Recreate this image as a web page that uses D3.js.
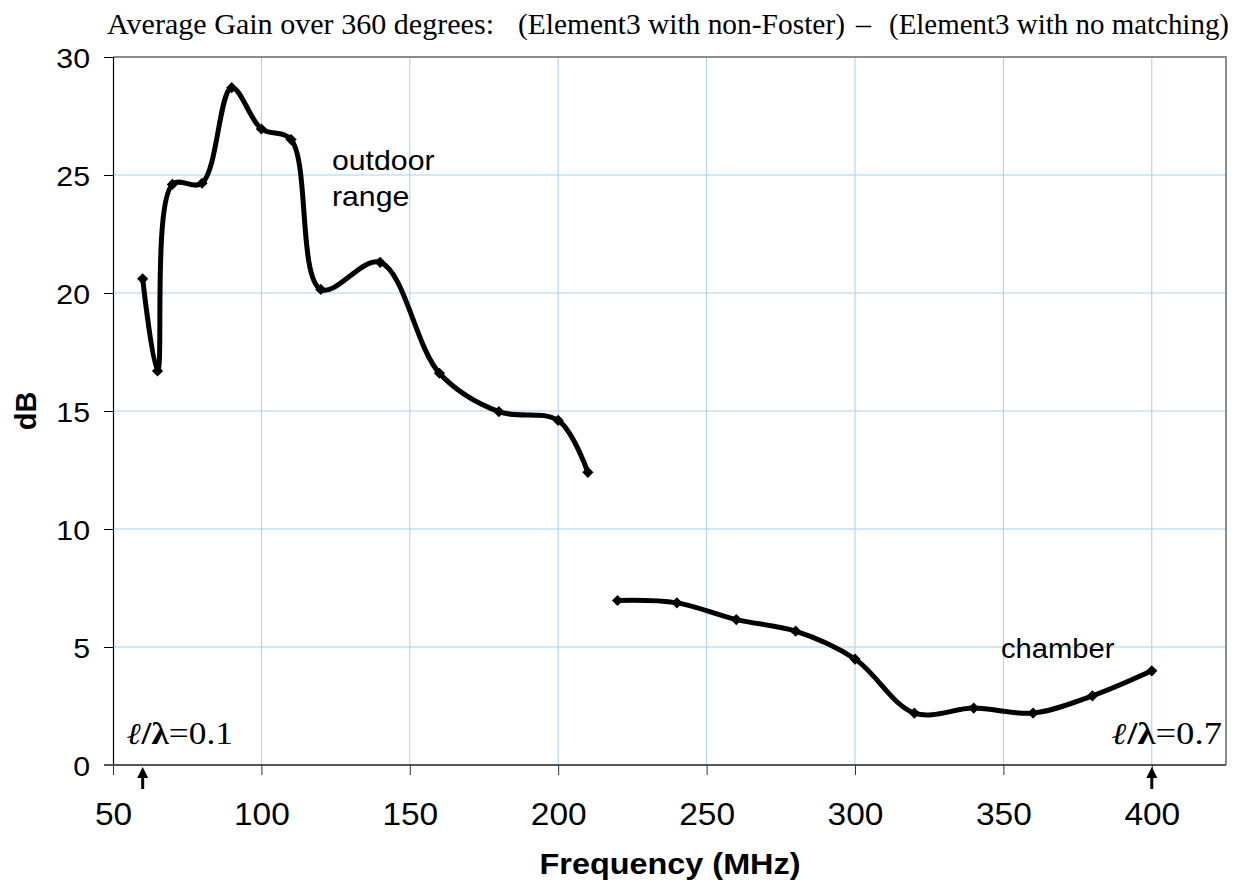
<!DOCTYPE html>
<html><head><meta charset="utf-8">
<script src="https://cdn.jsdelivr.net/npm/d3@7"></script>
<style>
html,body{margin:0;padding:0;background:#fff;}
svg{display:block;}
</style></head>
<body>
<svg id="chart" width="1233" height="882"></svg>
<script>
// ---- data ----
const freqOutdoor = [60, 65, 70, 80, 90, 100, 110, 120, 140, 160, 180, 200, 210];
const gainOutdoor = [20.6, 16.7, 24.6, 24.65, 28.7, 26.95, 26.5, 20.15, 21.3, 16.6, 14.97, 14.6, 12.4];
const freqChamber = [220, 240, 260, 280, 300, 320, 340, 360, 380, 400];
const gainChamber = [6.97, 6.87, 6.16, 5.67, 4.49, 2.2, 2.41, 2.2, 2.93, 3.99];
const xTicks = [50, 100, 150, 200, 250, 300, 350, 400];
const yTicks = [0, 5, 10, 15, 20, 25, 30];
const xDomain = [50, 425];
const yDomain = [0, 30];
const arrowFreqs = [60, 400];
const titleParts = ["Average Gain over 360 degrees:", "(Element3 with non-Foster)", "\u2013", "(Element3 with no matching)"];

// ---- layout ----
const L = 113, R = 1226, T = 57, B = 765;
const svg = d3.select("#chart");
const x = d3.scaleLinear().domain(xDomain).range([L, R]);
const y = d3.scaleLinear().domain(yDomain).range([B, T]);
const SX = 1.08; // horizontal text stretch
const arial = "Arial, 'Liberation Sans', sans-serif";
const times = "'Times New Roman', 'Liberation Serif', serif";

// gridlines
svg.append("g").selectAll("line").data(yTicks.filter(v => v > 0 && v < 30)).join("line")
  .attr("x1", L).attr("x2", R).attr("y1", d => y(d)).attr("y2", d => y(d))
  .attr("stroke", "#a6cff5").attr("stroke-width", 1);
svg.append("g").selectAll("line").data(xTicks.filter(v => v > 50)).join("line")
  .attr("y1", T).attr("y2", B).attr("x1", d => x(d)).attr("x2", d => x(d))
  .attr("stroke", "#a6cff5").attr("stroke-width", 1);

// frame top/right
svg.append("path").attr("d", `M${L},${T}H${R}V${B}`).attr("fill", "none")
  .attr("stroke", "#8c8c8c").attr("stroke-width", 2);

// y axis
const yAxis = d3.axisLeft(y).tickValues(yTicks).tickSize(9).tickPadding(0).tickFormat(d3.format("d"));
const gy = svg.append("g").attr("transform", `translate(${L},0)`).call(yAxis);
gy.select(".domain").attr("stroke", "#000").attr("stroke-width", 1.2);
gy.selectAll(".tick line").attr("stroke", "#000");
gy.selectAll(".tick text").remove();
gy.selectAll(".tick").append("text")
  .attr("transform", `translate(-23,10) scale(${SX},1)`)
  .attr("text-anchor", "end").attr("fill", "#000")
  .style("font-family", arial).style("font-size", "28px")
  .text(d => d);

// x axis
const xAxis = d3.axisBottom(x).tickValues(xTicks).tickSize(10).tickPadding(0).tickSizeOuter(0);
const gx = svg.append("g").attr("transform", `translate(0,${B})`).call(xAxis);
gx.select(".domain").attr("stroke", "#555").attr("stroke-width", 2).attr("d", `M${L - 9},0H${R}`);
gx.selectAll(".tick line").attr("stroke", "#333");
gx.selectAll(".tick text").remove();
gx.selectAll(".tick").append("text")
  .attr("transform", `translate(0,60) scale(${SX},1)`)
  .attr("text-anchor", "middle").attr("fill", "#000")
  .style("font-family", arial).style("font-size", "31px")
  .text(d => d);

// axis titles
svg.append("text").attr("transform", `translate(670,874) scale(${SX},1)`)
  .attr("text-anchor", "middle").style("font-family", arial)
  .style("font-size", "30px").style("font-weight", "bold").text("Frequency (MHz)");
svg.append("text").attr("transform", `translate(36,411) rotate(-90)`)
  .attr("text-anchor", "middle").style("font-family", arial)
  .style("font-size", "29px").style("font-weight", "bold").text("dB");

// title
const titleX = [107, 518, 856, 889];
const titleW = [387, 327, 15, 340];
titleParts.forEach((t, i) => {
  svg.append("text").attr("x", titleX[i]).attr("y", 34)
    .attr("textLength", titleW[i]).attr("lengthAdjust", "spacingAndGlyphs")
    .style("font-family", times).style("font-size", "29px")
    .text(t);
});

// series lines
const line = d3.line().x(d => x(d[0])).y(d => y(d[1])).curve(d3.curveCatmullRom.alpha(0.5));
const outdoor = freqOutdoor.map((f, i) => [f, gainOutdoor[i]]);
const chamber = freqChamber.map((f, i) => [f, gainChamber[i]]);
[outdoor, chamber].forEach(s => {
  svg.append("path").datum(s).attr("d", line).attr("fill", "none")
    .attr("stroke", "#000").attr("stroke-width", 5).attr("stroke-linejoin", "round");
  svg.append("g").selectAll("path").data(s).join("path")
    .attr("d", d3.symbol(d3.symbolDiamond2, 80))
    .attr("transform", d => `translate(${x(d[0])},${y(d[1])})`).attr("fill", "#000");
});

// annotations
svg.append("text").attr("transform", `translate(332,170) scale(${SX},1)`)
  .style("font-family", arial).style("font-size", "28px").text("outdoor");
svg.append("text").attr("transform", `translate(332,206) scale(${SX},1)`)
  .style("font-family", arial).style("font-size", "28px").text("range");
svg.append("text").attr("transform", `translate(1001,658) scale(${SX},1)`)
  .style("font-family", arial).style("font-size", "27px").text("chamber");

function ratioLabel(px, anchor, val, w) {
  const t = svg.append("text").attr("x", px).attr("y", 744).attr("text-anchor", anchor)
    .attr("textLength", w).attr("lengthAdjust", "spacingAndGlyphs")
    .style("font-family", times).style("font-size", "31px");
  t.append("tspan").style("font-family", "'DejaVu Serif', serif").style("font-size", "30px")
    .style("font-weight", "bold").style("font-style", "italic").text("\u2113");
  t.append("tspan").style("font-weight", "bold").text("/\u03BB");
  t.append("tspan").text("=" + val);
}
ratioLabel(127, "start", "0.1", 106);
ratioLabel(1222, "end", "0.7", 110);

// arrows
arrowFreqs.forEach(f => {
  const ax = x(f);
  svg.append("line").attr("x1", ax).attr("x2", ax).attr("y1", 775).attr("y2", 789)
    .attr("stroke", "#000").attr("stroke-width", 3);
  svg.append("path").attr("d", `M${ax},767L${ax - 5.5},778L${ax + 5.5},778Z`).attr("fill", "#000");
});
</script>
</body></html>
